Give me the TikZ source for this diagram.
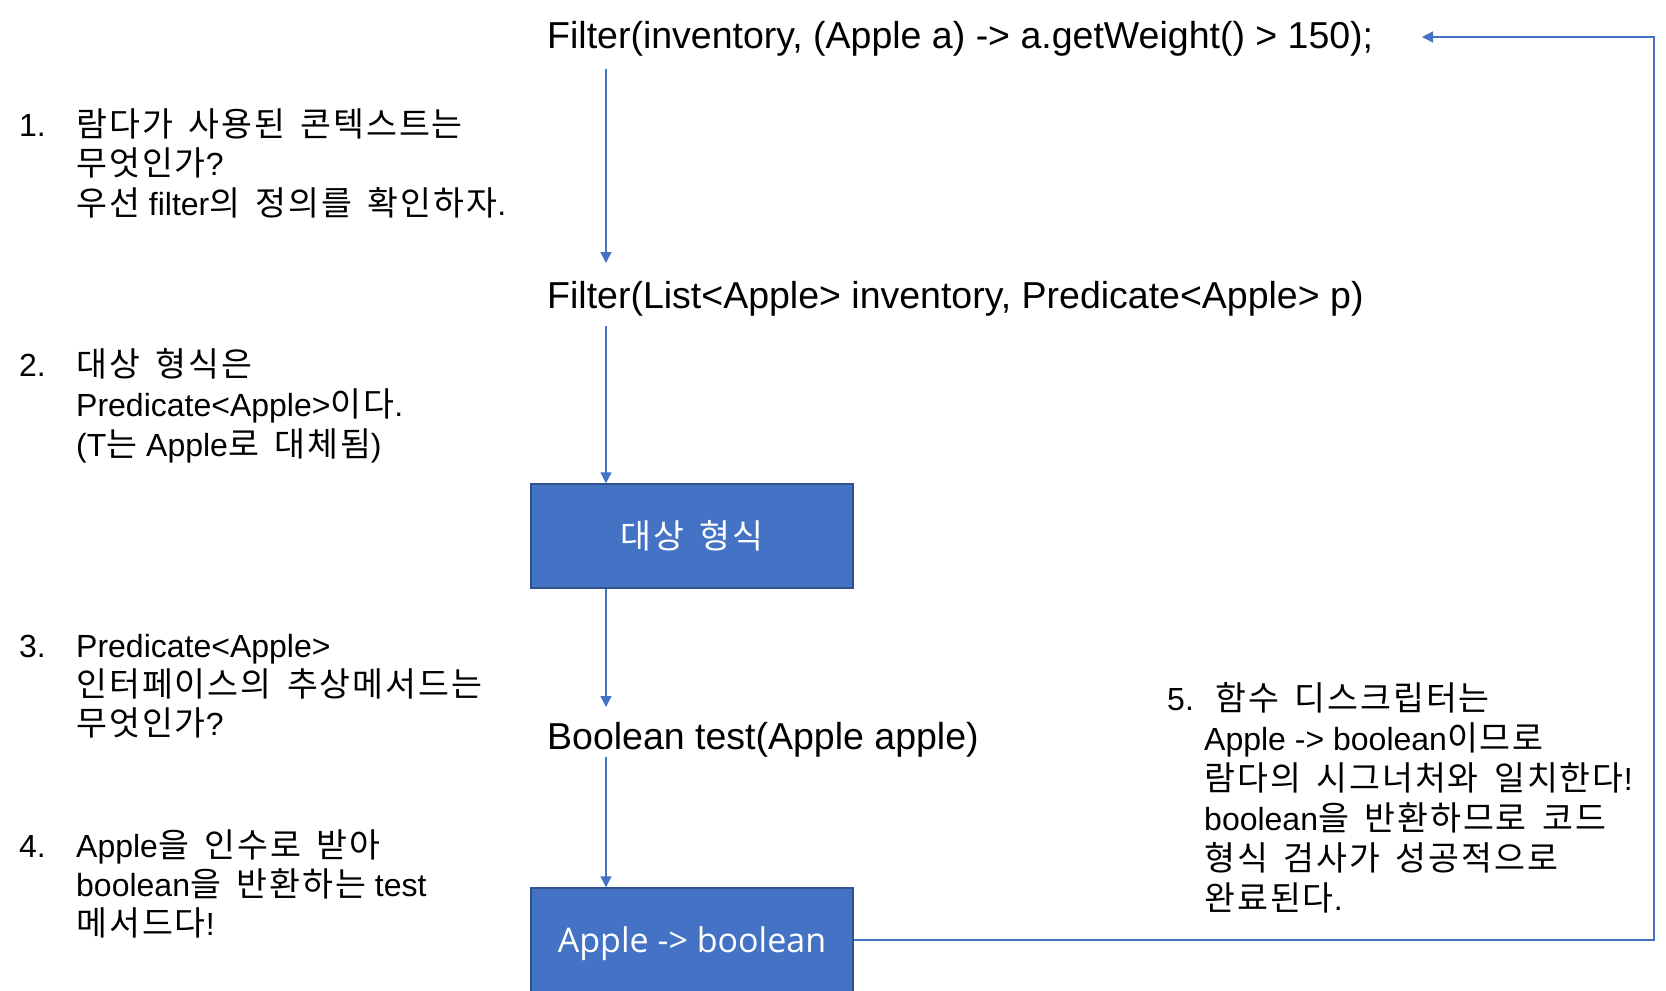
\documentclass[tikz,border=0pt]{standalone}
\usepackage{fontspec}
\setmainfont{Liberation Sans}
\newfontfamily\kr[Scale=1.05,LetterSpace=6,WordSpace=1.6]{Noto Sans CJK KR}
\newfontfamily\boxlat{Open Sans}
\newcommand{\K}[1]{{\kr #1}}
\usetikzlibrary{arrows.meta,calc}
\definecolor{bluefill}{HTML}{4472C4}
\definecolor{blueedge}{HTML}{2F528F}
\tikzset{
  ann/.style={anchor=base west, inner sep=0pt, font=\fontsize{32}{38}\selectfont},
  code/.style={anchor=base west, inner sep=0pt, font=\fontsize{37.5}{42}\selectfont},
  bluebox/.style={draw=blueedge, fill=bluefill, line width=1.5pt, minimum width=322pt, minimum height=104pt, inner sep=0pt, text=white, font=\fontsize{32}{38}\selectfont},
  arr/.style={draw=bluefill, line width=1.3pt, -{Triangle[length=11pt,width=11pt]}}
}
\begin{document}
\begin{tikzpicture}[x=1pt,y=-1pt]
\fill[white] (0,0) rectangle (1666,991);
\useasboundingbox (0,0) rectangle (1666,991);
% code lines
\node[code] (code1) at (547,48) {Filter(inventory, (Apple a) -> a.getWeight() > 150);};
\node[code] (code2) at (547,308) {Filter(List<Apple> inventory, Predicate<Apple> p)};
\node[code] (code3) at (547,749) {Boolean test(Apple apple)};
% boxes
\node[bluebox] (box1) at (692,536) {\K{대상 형식}};
\node[bluebox] (box2) at (692,940) {\raisebox{-12.5pt}[0pt][0pt]{\boxlat\fontsize{34}{38}\selectfont Apple -> boolean}};
% connectors
\coordinate (ax) at (606,0);
\coordinate (rc) at (1654,0);
\coordinate (rtip) at (1422,37);
\draw[arr] ($(code1.base -| ax)+(0,21)$) -- ($(code2.base -| ax)+(0,-45)$);
\draw[arr] ($(code2.base -| ax)+(0,18)$) -- (box1.north -| ax);
\draw[arr] (box1.south -| ax) -- ($(code3.base -| ax)+(0,-42)$);
\draw[arr] ($(code3.base -| ax)+(0,8)$) -- (box2.north -| ax);
\draw[arr] (box2.east) -- (box2.east -| rc) |- (rtip);
% annotation 1
\node[ann] (n1) at (19,136) {1.};
\node[ann] (t1a) at (76,136) {\K{람다가 사용된 콘텍스트는}};
\node[ann] (t1b) at (76,175) {\K{무엇인가}?};
\node[ann] (t1c) at (76,215) {\K{우선} filter\K{의 정의를 확인하자}.};
% annotation 2
\node[ann] (n2) at (19,376) {2.};
\node[ann] (t2a) at (76,376) {\K{대상 형식은}};
\node[ann] (t2b) at (76,416) {Predicate<Apple>\K{이다}.};
\node[ann] (t2c) at (76,456) {(T\K{는} Apple\K{로 대체됨})};
% annotation 3
\node[ann] (n3) at (19,657) {3.};
\node[ann] (t3a) at (76,657) {Predicate<Apple>};
\node[ann] (t3b) at (76,696) {\K{인터페이스의 추상메서드는}};
\node[ann] (t3c) at (76,735) {\K{무엇인가}?};
% annotation 4
\node[ann] (n4) at (19,857) {4.};
\node[ann] (t4a) at (76,857) {Apple\K{을 인수로 받아}};
\node[ann] (t4b) at (76,896) {boolean\K{을 반환하는} test};
\node[ann] (t4c) at (76,935) {\K{메서드다}!};
% annotation 5
\node[ann] (n5) at (1167,710) {5.};
\node[ann] (t5a) at (1215,710) {\K{함수 디스크립터는}};
\node[ann] (t5b) at (1204,750) {Apple -> boolean\K{이므로}};
\node[ann] (t5c) at (1204,790) {\K{람다의 시그너처와 일치한다}!};
\node[ann] (t5d) at (1204,830) {boolean\K{을 반환하므로 코드}};
\node[ann] (t5e) at (1204,870) {\K{형식 검사가 성공적으로}};
\node[ann] (t5f) at (1204,910) {\K{완료된다}.};
\end{tikzpicture}
\end{document}
